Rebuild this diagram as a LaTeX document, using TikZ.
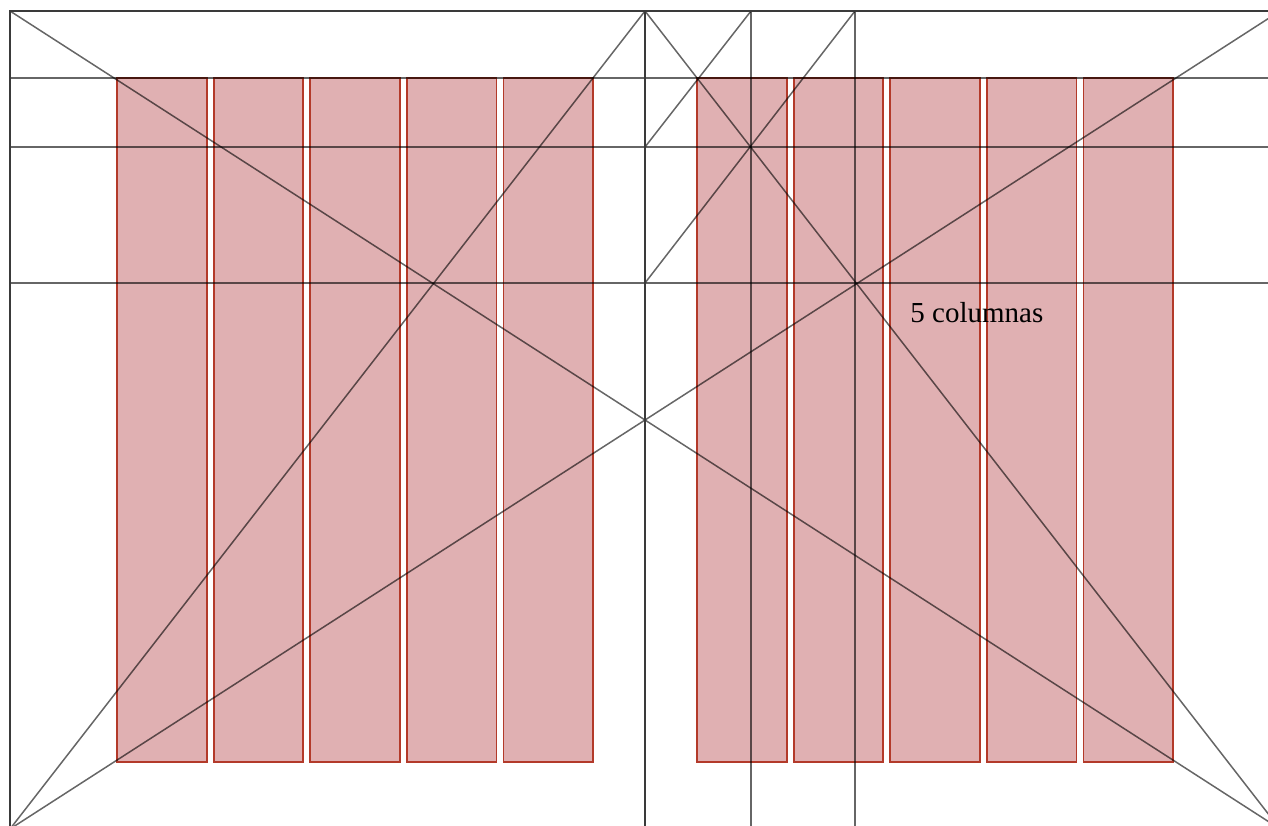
\documentclass[tikz,border=0pt]{standalone}
\usepackage{fontspec}
\setmainfont{Liberation Serif}
\usetikzlibrary{calc}
\definecolor{frameink}{HTML}{3A3A3A}
\definecolor{colfill}{HTML}{E0B0B2}
\definecolor{coledge}{HTML}{B33A2A}
\tikzset{
  framerule/.style={draw=frameink,line width=1pt},
  gridrule/.style={draw=black,line width=0.75pt,draw opacity=0.6},
  colbox/.style={draw=coledge,fill=colfill,line width=0.9pt},
  caption/.style={font=\fontsize{14.5}{17}\selectfont,anchor=base west,inner sep=0pt,text=black}
}
\begin{document}
\begin{tikzpicture}[x=0.5pt,y=-0.5pt]
    \useasboundingbox (0,0) rectangle (1268,825);
    \clip (0,0) rectangle (1268,825);
    \fill[white] (0,0) rectangle (1268,825);
    % pliego
    \coordinate (tl) at (10,11);
    \coordinate (bl) at (10,829);
    \coordinate (tr) at (1280,11);
    \coordinate (br) at (1280,829);
    \coordinate (lomo top) at (645,11);
    \coordinate (lomo bot) at (645,829);
    % columnas
    \foreach \i in {0,...,4} {
      \draw[colbox] ({117+\i*96.6},78) rectangle ++(89.6,684);
      \draw[colbox] ({697+\i*96.6},78) rectangle ++(89.6,684);
    }
    % reticula
    \foreach \y in {78,147,283}
      \draw[gridrule] (10,\y) coordinate (h\y) -- (1280,\y);
    \foreach \x in {751,855}
      \draw[gridrule] (\x,11) coordinate (v\x) -- (\x,829);
    \draw[gridrule] (tl) -- (br);
    \draw[gridrule] (bl) -- (tr);
    \draw[gridrule] (bl) -- (lomo top);
    \draw[gridrule] (lomo top) -- (br);
    \draw[gridrule] (645,147) -- (v751);
    \draw[gridrule] (645,283) -- (v855);
    \draw[framerule] (bl) -- (tl) -- (tr);
    \draw[framerule] (lomo top) -- (lomo bot);
    \node[caption] (rotulo) at (910,322) {5 columnas};
  \end{tikzpicture}
\end{document}
